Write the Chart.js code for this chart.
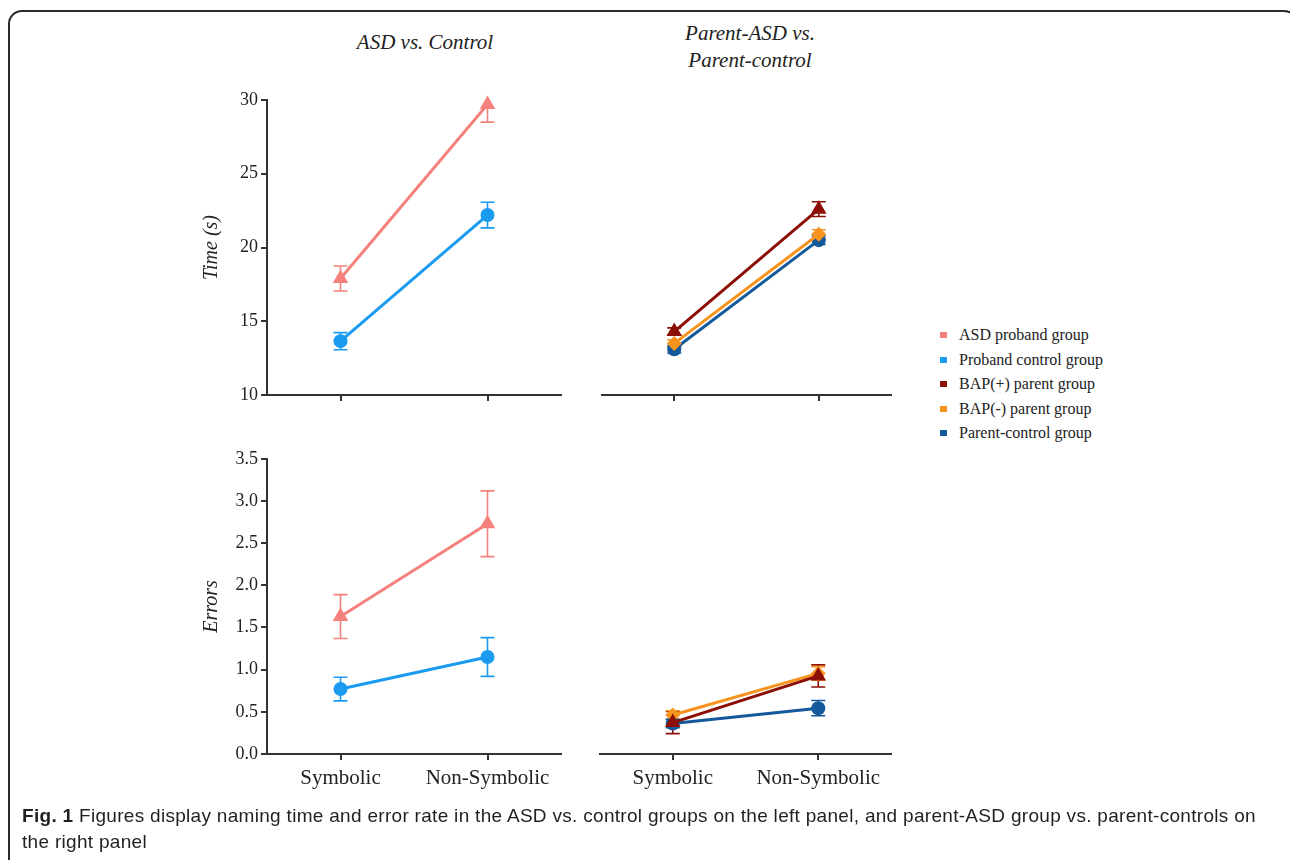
<!DOCTYPE html>
<html>
<head>
<meta charset="utf-8">
<script src="https://cdn.jsdelivr.net/npm/chart.js@4.4.1/dist/chart.umd.min.js"></script>
<style>
	body { margin: 0; background: #fff; width: 1290px; height: 860px; overflow: hidden; position: relative; font-family: "Liberation Serif", serif; color: #222; }
	.frame { position: absolute; left: 8px; top: 10px; width: 1290px; height: 900px; border: 2px solid #2b2b2b; border-radius: 14px; box-sizing: border-box; }
	canvas { position: absolute; }
	.title { position: absolute; font-style: italic; font-size: 21px; text-align: center; line-height: 27px; }
	.legend { position: absolute; left: 940px; top: 323px; font-size: 16px; }
	.legend div { height: 24.6px; line-height: 24px; position: relative; padding-left: 19px; white-space: nowrap; }
	.legend span { position: absolute; left: 0; top: 9px; width: 7px; height: 6px; }
	.caption { position: absolute; left: 22px; top: 803px; font-family: "Liberation Sans", sans-serif; font-size: 19px; letter-spacing: 0.3px; line-height: 26px; color: #231f20; }
</style>
</head>
<body>
<div class="frame"></div>
<div class="title" style="left:325px; top:29px; width:200px;">ASD vs. Control</div>
<div class="title" style="left:650px; top:20px; width:200px;">Parent-ASD vs.<br>Parent-control</div>
<canvas id="time-left" width="370" height="330" style="left:200px; top:85px;"></canvas>
<canvas id="time-right" width="310" height="330" style="left:590px; top:85px;"></canvas>
<canvas id="err-left" width="370" height="365" style="left:200px; top:445px;"></canvas>
<canvas id="err-right" width="310" height="365" style="left:590px; top:445px;"></canvas>
<div class="legend" id="legend"></div>
<div class="caption"><b>Fig. 1</b> Figures display naming time and error rate in the ASD vs. control groups on the left panel, and parent-ASD group vs. parent-controls on<br>the right panel</div>
<script>
const categories = ["Symbolic", "Non-Symbolic"];

// naming time (s), mean and error
const timeAsd = [17.9, 29.7];
const timeAsdErr = [0.85, 1.2];
const timeControl = [13.65, 22.2];
const timeControlErr = [0.58, 0.87];
const timeBapPos = [14.3, 22.6];
const timeBapPosErr = [0.25, 0.5];
const timeBapNeg = [13.5, 20.9];
const timeBapNegErr = [0.25, 0.3];
const timeParentCtrl = [13.1, 20.5];
const timeParentCtrlErr = [0.25, 0.3];

// errors, mean and error
const errAsd = [1.63, 2.73];
const errAsdErr = [0.26, 0.39];
const errControl = [0.77, 1.15];
const errControlErr = [0.14, 0.23];
const errBapPos = [0.37, 0.92];
const errBapPosErr = [0.13, 0.13];
const errBapNeg = [0.46, 0.95];
const errBapNegErr = [0.05, 0.08];
const errParentCtrl = [0.36, 0.54];
const errParentCtrlErr = [0.05, 0.09];

const groupNames = ["ASD proband group", "Proband control group", "BAP(+) parent group", "BAP(-) parent group", "Parent-control group"];
const groupColors = ["#f4817c", "#1a9bf0", "#8c0f06", "#f7941d", "#13599b"];
const groupMarkers = ["triangle", "circle", "triangle", "rectRot", "circle"];

const timeTicks = [10, 15, 20, 25, 30];
const errTicks = [0, 0.5, 1, 1.5, 2, 2.5, 3, 3.5];

const legend = document.getElementById("legend");
groupNames.forEach((name, i) => {
	legend.innerHTML += `<div><span style="background:${groupColors[i]}"></span>${name}</div>`;
});

// error bars drawn from the y scale, behind the markers
const errorBars = {
	id: "errorBars",
	beforeDatasetsDraw(chart) {
		const ctx = chart.ctx;
		const y = chart.scales.y;
		const area = chart.chartArea;
		ctx.save();
		ctx.beginPath();
		ctx.rect(area.left - 20, area.top - 1, area.right - area.left + 40, area.bottom - area.top + 2);
		ctx.clip();
		chart.data.datasets.forEach((ds, di) => {
			const meta = chart.getDatasetMeta(di);
			ctx.strokeStyle = ds.borderColor;
			ctx.lineWidth = 1.6;
			meta.data.forEach((pt, i) => {
				const top = y.getPixelForValue(ds.data[i] + ds.errors[i]);
				const bot = y.getPixelForValue(ds.data[i] - ds.errors[i]);
				ctx.beginPath();
				ctx.moveTo(pt.x, top);
				ctx.lineTo(pt.x, bot);
				ctx.moveTo(pt.x - 7, top);
				ctx.lineTo(pt.x + 7, top);
				ctx.moveTo(pt.x - 7, bot);
				ctx.lineTo(pt.x + 7, bot);
				ctx.stroke();
			});
		});
		ctx.restore();
	},
};

function series(group, data, errors) {
	const marker = groupMarkers[group];
	return {
		label: groupNames[group],
		data: data,
		errors: errors,
		borderColor: groupColors[group],
		backgroundColor: groupColors[group],
		borderWidth: 3,
		pointStyle: marker,
		pointRadius: marker === "circle" ? 7 : marker === "rectRot" ? 7.5 : 9,
		pointBorderWidth: 0,
		clip: false,
	};
}

function panel(canvasId, datasets, opts) {
	new Chart(document.getElementById(canvasId), {
		type: "line",
		data: { labels: categories, datasets: datasets },
		plugins: [errorBars],
		options: {
			responsive: false,
			animation: false,
			layout: { padding: opts.padding },
			plugins: { legend: { display: false }, tooltip: { enabled: false } },
			scales: {
				x: {
					offset: true,
					grid: { offset: false, drawOnChartArea: false, drawTicks: true, tickLength: 6, color: "#333", lineWidth: 2 },
					border: { display: true, color: "#333", width: 2 },
					ticks: {
						display: opts.showLabels,
						color: "#222",
						padding: 6,
						maxRotation: 0,
						autoSkip: false,
						font: { family: "Liberation Serif", size: 21 },
					},
					afterFit: (s) => { s.height = opts.xHeight; },
				},
				y: {
					display: opts.showY,
					min: opts.ticks[0],
					max: opts.ticks[opts.ticks.length - 1],
					afterBuildTicks: (s) => { s.ticks = opts.ticks.map((v) => ({ value: v })); },
					grid: { drawOnChartArea: false, drawTicks: true, tickLength: 6, color: "#333", lineWidth: 2 },
					border: { display: true, color: "#333", width: 2 },
					ticks: {
						color: "#222",
						padding: 3,
						font: { family: "Liberation Serif", size: 18 },
						callback: opts.format,
					},
					title: {
						display: opts.showY,
						text: opts.yTitle,
						color: "#222",
						padding: 0,
						font: { family: "Liberation Serif", size: 20, style: "italic" },
					},
					afterFit: (s) => { s.width = opts.showY ? 67 : 0; },
				},
			},
		},
	});
}

panel("time-left", [
	series(0, timeAsd, timeAsdErr),
	series(1, timeControl, timeControlErr),
], { padding: { top: 15, right: 7, left: 0, bottom: 0 }, xHeight: 20, showLabels: false, showY: true, ticks: timeTicks, yTitle: "Time (s)", format: (v) => v });

panel("time-right", [
	series(2, timeBapPos, timeBapPosErr),
	series(3, timeBapNeg, timeBapNegErr),
	series(4, timeParentCtrl, timeParentCtrlErr),
], { padding: { top: 15, right: 5, left: 12, bottom: 0 }, xHeight: 20, showLabels: false, showY: false, ticks: timeTicks, yTitle: "", format: (v) => v });

panel("err-left", [
	series(0, errAsd, errAsdErr),
	series(1, errControl, errControlErr),
], { padding: { top: 12, right: 7, left: 0, bottom: 0 }, xHeight: 56, showLabels: true, showY: true, ticks: errTicks, yTitle: "Errors", format: (v) => Number(v).toFixed(1) });

panel("err-right", [
	series(2, errBapPos, errBapPosErr),
	series(3, errBapNeg, errBapNegErr),
	series(4, errParentCtrl, errParentCtrlErr),
], { padding: { top: 12, right: 7, left: 10, bottom: 0 }, xHeight: 56, showLabels: true, showY: false, ticks: errTicks, yTitle: "", format: (v) => Number(v).toFixed(1) });
</script>
</body>
</html>
